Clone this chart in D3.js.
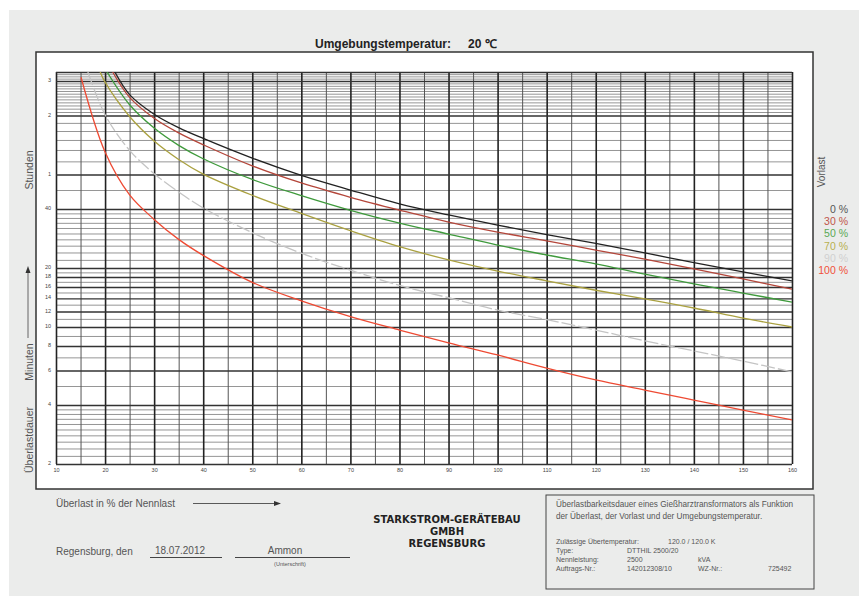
<!DOCTYPE html>
<meta charset="utf-8">
<style>
body { margin: 0; background: #fff; }
text { font-family: "Liberation Sans", Arial, sans-serif; }
.tick text { fill: #444; font-size: 5.5px; }
.curve { fill: none; stroke-width: 1.3px; }
</style>
<body>
<script src="https://d3js.org/d3.v7.min.js"></script>
<script>
// overload in % of rated load, value points shared by all curves
var overload = [20, 25, 30, 35, 40, 50, 60, 70, 80, 90, 100, 110, 120, 130, 140, 150, 160];

// pre-load series (Vorlast) and permissible overload duration in minutes
var vorlast = ["0 %", "30 %", "50 %", "70 %", "90 %", "100 %"];
var startX = [22.0, 21.55, 20.4, 19.0, 16.5, 15.1];
var startMin = [200, 200, 200, 200, 200, 188];
var dur0   = [null, 153.4, 121.8, 104, 91.6, 72.7, 59.4, 50, 42.5, 37.3, 33.1, 29.6, 26.7, 23.9, 21.3, 19.1, 17.2];
var dur30  = [null, 148.4, 116.2, 97.8, 85.1, 66.4, 54.3, 45.9, 39.5, 34.3, 30.5, 27.5, 24.7, 22.2, 19.8, 17.6, 15.6];
var dur50  = [null, 136.1, 103.5, 84.5, 72.2, 56.6, 46.8, 39.4, 33.9, 29.8, 26.2, 23.3, 21, 18.6, 16.6, 14.9, 13.4];
var dur70  = [177.5, 118.6, 88.9, 71.6, 60.3, 47, 38, 31, 25.7, 22, 19.3, 17.2, 15.4, 13.9, 12.5, 11.1, 10];
var dur90  = [121, 79.7, 60.6, 48.8, 40.5, 30.3, 23.8, 19.5, 16.3, 14.1, 12.2, 10.9, 9.65, 8.5, 7.55, 6.7, 5.9];
var dur100 = [78.1, 47.2, 35.4, 28, 23.2, 16.9, 13.6, 11.3, 9.65, 8.3, 7.2, 6.17, 5.37, 4.77, 4.24, 3.77, 3.36];
var series = [dur0, dur30, dur50, dur70, dur90, dur100];

// axis ticks
var xTicks = d3.range(10, 161, 10);
var yTickVals = [2, 4, 6, 8, 10, 12, 14, 16, 18, 20, 40, 60, 120, 180];
var yTickText = ["2", "4", "6", "8", "10", "12", "14", "16", "18", "20", "40", "1", "2", "3"];
var yMajor = [2, 4, 6, 8, 10, 12, 14, 16, 18, 20, 40, 60, 120, 180, 200];
var yMinor = d3.range(2.2, 3.9, 0.2).concat([5, 7, 9, 11, 13, 15, 17, 19],
    d3.range(22, 39, 2), [50, 70, 80, 90, 100, 110],
    [125, 130, 135, 140, 145, 150, 155, 160, 165, 170, 175, 185, 190, 195]);

var colors = ["#222222", "#b4463a", "#3f9a3c", "#aaa140", "#c4c4c4", "#ee4a33"];

var W = 859, H = 596;
var svg = d3.select("body").append("svg").attr("width", W).attr("height", H);

// page background and frame
svg.append("rect").attr("x", 9).attr("y", 10).attr("width", 850).attr("height", 586).attr("fill", "#ebeceb");
svg.append("rect").attr("x", 36).attr("y", 52).attr("width", 777).attr("height", 437)
    .attr("fill", "#fff").attr("stroke", "#333").attr("stroke-width", 1.5);

var plot = { left: 56, right: 792, top: 72, bottom: 464 };
var x = d3.scaleLinear().domain([10, 160]).range([plot.left, plot.right]);
var y = d3.scaleLog().domain([2, 200]).range([plot.bottom, plot.top]);
var pw = plot.right - plot.left, ph = plot.bottom - plot.top;

// grid: minor horizontal
svg.append("g").attr("transform", "translate(" + plot.left + ",0)")
    .call(d3.axisLeft(y).tickValues(yMinor).tickSize(-pw).tickFormat(""))
    .call(function(g) {
        g.select(".domain").remove();
        g.selectAll("line").attr("stroke", "#8a8a8a").attr("stroke-width", 0.9);
    });
// grid: vertical
svg.append("g").attr("transform", "translate(0," + plot.bottom + ")")
    .call(d3.axisBottom(x).tickValues(d3.range(15, 160, 10)).tickSize(-ph).tickFormat(""))
    .call(function(g) {
        g.select(".domain").remove();
        g.selectAll("line").attr("stroke", "#555").attr("stroke-width", 1);
    });
svg.append("g").attr("transform", "translate(0," + plot.bottom + ")")
    .call(d3.axisBottom(x).tickValues(xTicks).tickSize(-ph).tickFormat(""))
    .call(function(g) {
        g.select(".domain").remove();
        g.selectAll("line").attr("stroke", "#222").attr("stroke-width", 1.6);
    });
// grid: major horizontal
svg.append("g").attr("transform", "translate(" + plot.left + ",0)")
    .call(d3.axisLeft(y).tickValues(yMajor).tickSize(-pw).tickFormat(""))
    .call(function(g) {
        g.select(".domain").remove();
        g.selectAll("line").attr("stroke", "#333").attr("stroke-width", 1.4);
    });

// tick labels
svg.append("g").attr("transform", "translate(" + (plot.left - 2) + ",0)")
    .call(d3.axisLeft(y).tickValues(yTickVals).tickSize(0)
        .tickFormat(function(d, i) { return yTickText[i]; }))
    .call(function(g) { g.select(".domain").remove(); g.selectAll("text").attr("dy", "0.1em"); });
svg.append("g").attr("transform", "translate(0," + (plot.bottom + 1) + ")")
    .call(d3.axisBottom(x).tickValues(xTicks).tickSize(0).tickFormat(d3.format("d")))
    .call(function(g) { g.select(".domain").remove(); });

// curves
svg.append("clipPath").attr("id", "clip").append("rect")
    .attr("x", plot.left).attr("y", plot.top).attr("width", pw).attr("height", ph);
var line = d3.line()
    .x(function(d) { return x(d[0]); })
    .y(function(d) { return y(d[1]); })
    .curve(d3.curveCatmullRom.alpha(0.5));
series.forEach(function(s, i) {
    var pts = [[startX[i], startMin[i]]];
    s.forEach(function(v, j) { if (v != null && overload[j] > startX[i]) pts.push([overload[j], v]); });
    svg.append("path").attr("class", "curve").attr("clip-path", "url(#clip)")
        .attr("stroke", colors[i])
        .attr("stroke-dasharray", i == 4 ? "14,3" : null)
        .attr("d", line(pts));
});

// title
svg.append("text").attr("x", 315).attr("y", 48).attr("font-size", 12).attr("font-weight", "bold")
    .attr("fill", "#222").text("Umgebungstemperatur:");
svg.append("text").attr("x", 468).attr("y", 48).attr("font-size", 12).attr("font-weight", "bold")
    .attr("fill", "#222").text("20 ℃");

// left side labels
function vtext(tx, ty, s) {
    svg.append("text").attr("transform", "translate(" + tx + "," + ty + ") rotate(-90)")
        .attr("text-anchor", "middle").attr("font-size", 10.5).attr("fill", "#555").text(s);
}
vtext(33, 170, "Stunden");
vtext(33, 362, "Minuten");
vtext(33, 440, "Überlastdauer");
svg.append("line").attr("x1", 28).attr("x2", 28).attr("y1", 338).attr("y2", 272)
    .attr("stroke", "#444").attr("stroke-width", 0.8);
svg.append("path").attr("d", "M28,266 L25.5,273 L30.5,273 Z").attr("fill", "#333");

// legend
svg.append("text").attr("transform", "translate(825,172) rotate(-90)")
    .attr("text-anchor", "middle").attr("font-size", 10).attr("fill", "#555").text("Vorlast");
var legendColors = ["#555", "#c0554a", "#5aa855", "#b8b050", "#d0d0d0", "#f0503a"];
vorlast.forEach(function(s, i) {
    svg.append("text").attr("x", 848).attr("y", 213 + i * 12.2).attr("text-anchor", "end")
        .attr("font-size", 10.5).attr("fill", legendColors[i]).text(s);
});

// footer
svg.append("text").attr("x", 56).attr("y", 507).attr("font-size", 10).attr("fill", "#555")
    .text("Überlast in % der Nennlast");
svg.append("line").attr("x1", 193).attr("x2", 275).attr("y1", 503.5).attr("y2", 503.5)
    .attr("stroke", "#333").attr("stroke-width", 0.8);
svg.append("path").attr("d", "M281,503.5 L274,501 L274,506 Z").attr("fill", "#333");

svg.append("text").attr("x", 56).attr("y", 555).attr("font-size", 10).attr("fill", "#555").text("Regensburg, den");
svg.append("text").attr("x", 180).attr("y", 554).attr("text-anchor", "middle").attr("font-size", 10)
    .attr("fill", "#555").text("18.07.2012");
svg.append("line").attr("x1", 150).attr("x2", 222).attr("y1", 557.5).attr("y2", 557.5).attr("stroke", "#444");
svg.append("text").attr("x", 285).attr("y", 554).attr("text-anchor", "middle").attr("font-size", 10)
    .attr("fill", "#555").text("Ammon");
svg.append("line").attr("x1", 235).attr("x2", 350).attr("y1", 557.5).attr("y2", 557.5).attr("stroke", "#444");
svg.append("text").attr("x", 290).attr("y", 566).attr("text-anchor", "middle").attr("font-size", 5.5)
    .attr("fill", "#555").text("(Unterschrift)");

["STARKSTROM-GERÄTEBAU", "GMBH", "REGENSBURG"].forEach(function(s, i) {
    svg.append("text").attr("x", 447).attr("y", 523 + i * 12).attr("text-anchor", "middle")
        .attr("font-size", 10).attr("font-weight", "bold").attr("fill", "#222")
        .style("font-family", "'DejaVu Sans', sans-serif").text(s);
});

// info box
svg.append("rect").attr("x", 546).attr("y", 495).attr("width", 268).attr("height", 94)
    .attr("fill", "none").attr("stroke", "#444").attr("stroke-width", 1);
var info = svg.append("g").attr("font-size", 7).attr("fill", "#555");
info.append("text").attr("x", 556).attr("y", 507).attr("font-size", 8.2)
    .text("Überlastbarkeitsdauer eines Gießharztransformators als Funktion");
info.append("text").attr("x", 556).attr("y", 519).attr("font-size", 8.2)
    .text("der Überlast, der Vorlast und der Umgebungstemperatur.");
info.append("text").attr("x", 556).attr("y", 544).text("Zulässige Übertemperatur:");
info.append("text").attr("x", 668).attr("y", 544).text("120.0 / 120.0 K");
info.append("text").attr("x", 556).attr("y", 553).text("Type:");
info.append("text").attr("x", 627).attr("y", 553).text("DTTHIL 2500/20");
info.append("text").attr("x", 556).attr("y", 562).text("Nennleistung:");
info.append("text").attr("x", 627).attr("y", 562).text("2500");
info.append("text").attr("x", 698).attr("y", 562).text("kVA");
info.append("text").attr("x", 556).attr("y", 571).text("Auftrags-Nr.:");
info.append("text").attr("x", 627).attr("y", 571).text("142012308/10");
info.append("text").attr("x", 698).attr("y", 571).text("WZ-Nr.:");
info.append("text").attr("x", 768).attr("y", 571).text("725492");
</script>
</body>
